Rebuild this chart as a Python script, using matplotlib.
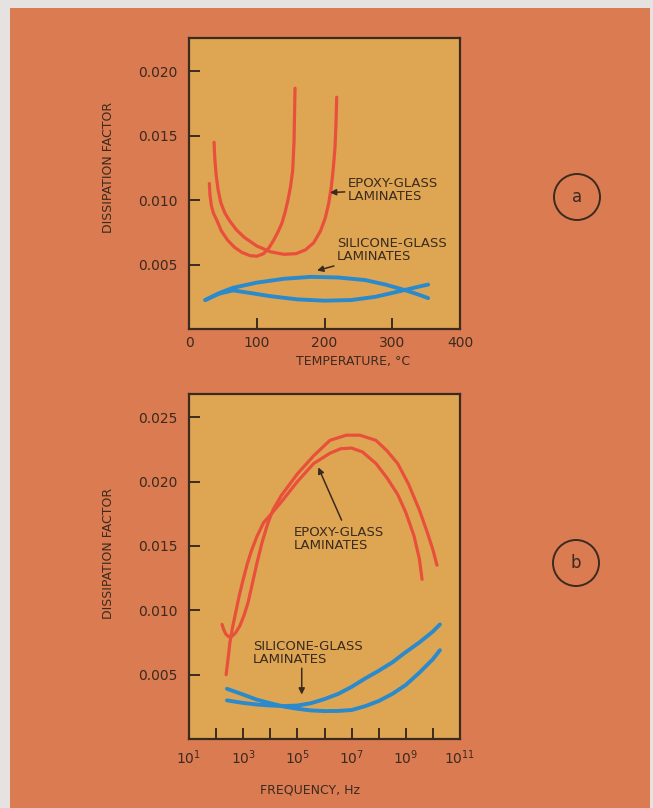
import numpy as np
import matplotlib.pyplot as plt
from matplotlib.patches import Rectangle, Ellipse

# panel a: dissipation factor (x 0.001) vs temperature, C
epoxy_a1_temp = [37, 38, 40, 43, 47, 53, 60, 70, 82, 100, 120, 140, 158, 172, 184, 194, 201, 206, 210, 213, 215.5, 217, 218]
epoxy_a1_df = [14.5, 13.3, 12.0, 10.8, 9.8, 9.0, 8.4, 7.7, 7.1, 6.45, 6.0, 5.8, 5.85, 6.15, 6.7, 7.6, 8.6, 9.7, 11.0, 12.5, 14.1, 16.0, 18.0]
epoxy_a2_temp = [30, 31, 33, 36, 41, 48, 57, 67, 78, 90, 100, 110, 118, 125, 131, 137, 142, 146, 150, 153, 155, 156.5]
epoxy_a2_df = [11.3, 10.4, 9.6, 9.0, 8.45, 7.6, 6.9, 6.35, 5.95, 5.7, 5.65, 5.85, 6.3, 6.9, 7.5, 8.2, 9.1, 10.0, 11.1, 12.3, 14.5, 18.7]
silicone_a1_temp = [24, 45, 65, 100, 140, 180, 220, 260, 290, 320, 340, 353]
silicone_a1_df = [2.25, 2.8, 3.2, 3.6, 3.9, 4.05, 4.0, 3.8, 3.45, 3.0, 2.65, 2.4]
silicone_a2_temp = [24, 45, 65, 90, 120, 160, 200, 240, 275, 300, 320, 340, 353]
silicone_a2_df = [2.25, 2.75, 3.0, 2.8, 2.55, 2.3, 2.2, 2.25, 2.5, 2.8, 3.05, 3.3, 3.45]

# panel b: dissipation factor (x 0.001) vs log10(frequency, Hz)
epoxy_b1_exp = [2.37, 2.44, 2.51, 2.6, 2.7, 2.85, 3.0, 3.15, 3.3, 3.5, 3.75, 4.0, 4.4, 5.0, 5.6, 6.2, 6.6, 7.0, 7.4, 7.9, 8.3, 8.7, 9.0, 9.3, 9.5, 9.6]
epoxy_b1_df = [5.0, 6.2, 7.5, 8.6, 9.6, 11.1, 12.4, 13.6, 14.6, 15.7, 16.8, 17.4, 18.4, 20.0, 21.4, 22.2, 22.55, 22.6, 22.3, 21.4, 20.3, 19.0, 17.6, 15.8, 14.0, 12.4]
epoxy_b2_exp = [2.22, 2.28, 2.36, 2.46, 2.58, 2.72, 2.88, 3.03, 3.18, 3.32, 3.5, 3.7, 3.9, 4.1, 4.4, 5.0, 5.6, 6.2, 6.8, 7.3, 7.9, 8.3, 8.7, 9.1, 9.5, 9.8, 10.0, 10.15]
epoxy_b2_df = [8.9, 8.5, 8.15, 7.95, 7.97, 8.25, 8.8, 9.6, 10.6, 11.9, 13.6, 15.3, 16.7, 17.8, 18.9, 20.6, 22.0, 23.2, 23.6, 23.6, 23.2, 22.4, 21.4, 19.8, 17.8, 16.0, 14.7, 13.5]
silicone_b1_exp = [2.4, 3.0, 3.5, 4.0, 4.5, 5.0, 5.5, 6.0, 6.5, 7.0, 7.5, 8.0, 8.5, 9.0, 9.5, 10.0, 10.26]
silicone_b1_df = [3.0, 2.8, 2.68, 2.6, 2.56, 2.6, 2.78, 3.1, 3.5, 4.05, 4.7, 5.3, 5.95, 6.75, 7.5, 8.35, 8.9]
silicone_b2_exp = [2.4, 3.0, 3.5, 4.0, 4.5, 5.0, 5.5, 6.0, 6.5, 7.0, 7.5, 8.0, 8.5, 9.0, 9.5, 10.0, 10.26]
silicone_b2_df = [3.9, 3.45, 3.06, 2.78, 2.52, 2.35, 2.22, 2.17, 2.18, 2.25, 2.55, 2.95, 3.5, 4.2, 5.15, 6.2, 6.9]

temp_ticks = [0, 100, 200, 300, 400]
df_ticks_a = [0.005, 0.010, 0.015, 0.020]
df_ticks_b = [0.005, 0.010, 0.015, 0.020, 0.025]
freq_tick_exp = list(range(1, 12))

ORANGE = '#DB7B51'
GOLD = '#DEA653'
RED = '#E8503C'
BLUE = '#2B8ACB'
INK = '#3B2A1E'

W, H = 653, 808
fig = plt.figure(figsize=(W / 100, H / 100), dpi=100, facecolor='#E6E2DF')
fig.add_artist(Rectangle((10 / W, 0), 640 / W, 1 - 8 / H, transform=fig.transFigure,
                         facecolor=ORANGE, edgecolor='none', zorder=-10))

ax_a = fig.add_axes([189 / W, 1 - 329 / H, 271 / W, 291 / H])
ax_b = fig.add_axes([189 / W, 1 - 739 / H, 271 / W, 345 / H])


def style(ax):
    ax.set_facecolor(GOLD)
    for s in ax.spines.values():
        s.set_color(INK)
        s.set_linewidth(1.6)
    ax.tick_params(direction='in', length=8, width=1.4, color=INK, labelcolor=INK, labelsize=10)
    ax.tick_params(axis='y', pad=8)


def k(v):
    return np.array(v) / 1000.0


line_kw = dict(solid_capstyle='round', solid_joinstyle='round')
arrow = dict(arrowstyle='-|>', color=INK, lw=1.1, mutation_scale=9, shrinkA=0, shrinkB=0)
note_kw = dict(ha='left', va='center', fontsize=9.5, color=INK, linespacing=1.0)

# ---- panel a
style(ax_a)
ax_a.plot(epoxy_a1_temp, k(epoxy_a1_df), color=RED, lw=2.3, **line_kw)
ax_a.plot(epoxy_a2_temp, k(epoxy_a2_df), color=RED, lw=2.3, **line_kw)
ax_a.plot(silicone_a1_temp, k(silicone_a1_df), color=BLUE, lw=2.8, **line_kw)
ax_a.plot(silicone_a2_temp, k(silicone_a2_df), color=BLUE, lw=2.8, **line_kw)
ax_a.set_xlim(0, 400)
ax_a.set_ylim(0, 0.0226)
ax_a.set_xticks(temp_ticks)
ax_a.set_yticks(df_ticks_a)
ax_a.set_yticklabels([f'{t:.3f}' for t in df_ticks_a])
ax_a.tick_params(axis='x', pad=5)
ax_a.set_xlabel('TEMPERATURE, °C', fontsize=9, color=INK)
ax_a.xaxis.set_label_coords(0.607, -0.09)
ax_a.set_ylabel('DISSIPATION FACTOR', fontsize=9, color=INK)
ax_a.yaxis.set_label_coords(-0.273, 0.554)

ax_a.annotate('EPOXY-GLASS\nLAMINATES', xy=(208, 0.0106), xytext=(234, 0.0108),
              arrowprops=arrow, **note_kw)
ax_a.annotate('SILICONE-GLASS\nLAMINATES', xy=(189, 0.00454), xytext=(218, 0.0061),
              arrowprops=arrow, **note_kw)

# ---- panel b
style(ax_b)
ax_b.set_xscale('log')
ax_b.plot(10.0 ** np.array(epoxy_b1_exp), k(epoxy_b1_df), color=RED, lw=2.3, **line_kw)
ax_b.plot(10.0 ** np.array(epoxy_b2_exp), k(epoxy_b2_df), color=RED, lw=2.3, **line_kw)
ax_b.plot(10.0 ** np.array(silicone_b1_exp), k(silicone_b1_df), color=BLUE, lw=2.8, **line_kw)
ax_b.plot(10.0 ** np.array(silicone_b2_exp), k(silicone_b2_df), color=BLUE, lw=2.8, **line_kw)
ax_b.set_xlim(1e1, 1e11)
ax_b.set_ylim(0, 0.0268)
ax_b.set_xticks([10.0 ** e for e in freq_tick_exp])
ax_b.set_xticklabels([f'$10^{{{e}}}$' if e % 2 else '' for e in freq_tick_exp])
ax_b.xaxis.set_minor_locator(plt.NullLocator())
ax_b.tick_params(axis='x', pad=7)
ax_b.set_yticks(df_ticks_b)
ax_b.set_yticklabels([f'{t:.3f}' for t in df_ticks_b])
ax_b.set_xlabel('FREQUENCY, Hz', fontsize=9, color=INK)
ax_b.xaxis.set_label_coords(0.446, -0.128)
ax_b.set_ylabel('DISSIPATION FACTOR', fontsize=9, color=INK)
ax_b.yaxis.set_label_coords(-0.273, 0.539)

ax_b.text(10 ** 4.85, 0.0155, 'EPOXY-GLASS\nLAMINATES', **note_kw)
ax_b.annotate('', xy=(10 ** 5.77, 0.0211), xytext=(10 ** 6.63, 0.0170), arrowprops=arrow)
ax_b.text(10 ** 3.37, 0.0067, 'SILICONE-GLASS\nLAMINATES', **note_kw)
ax_b.annotate('', xy=(10 ** 5.16, 0.00345), xytext=(10 ** 5.16, 0.0055), arrowprops=arrow)

# ---- circled panel letters
for letter, cx, cy in [('a', 577, 197), ('b', 576, 563)]:
    fig.add_artist(Ellipse((cx / W, 1 - cy / H), 46 / W, 46 / H, transform=fig.transFigure,
                           facecolor='none', edgecolor=INK, lw=1.4))
    fig.text(cx / W, 1 - cy / H, letter, ha='center', va='center', fontsize=12, color=INK)

fig.savefig('out.png', dpi=100, facecolor=fig.get_facecolor())
